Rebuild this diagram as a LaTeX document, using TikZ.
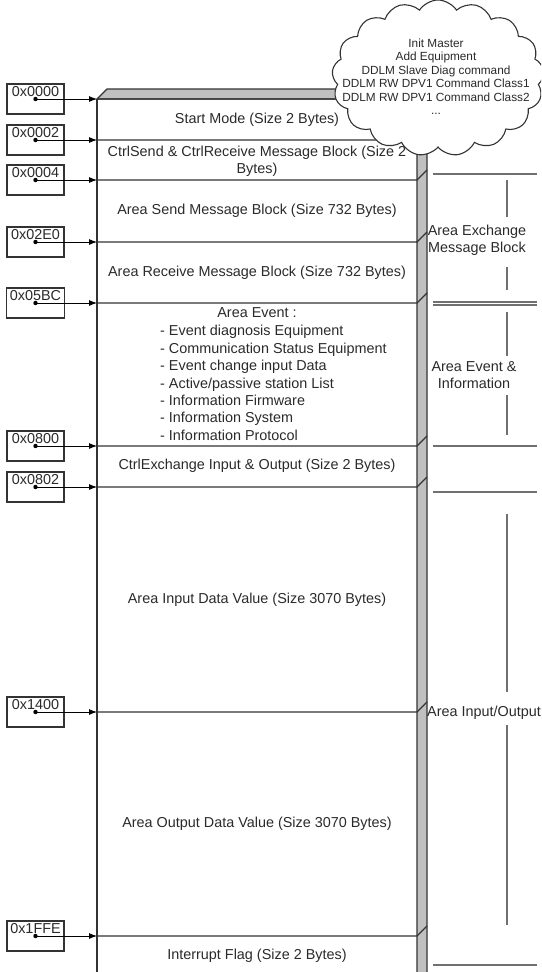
\documentclass[tikz,border=0pt]{standalone}
\usepackage{fontspec}
\setmainfont{Liberation Sans}
\usetikzlibrary{arrows.meta,shapes.symbols}

\definecolor{linegray}{HTML}{333333}
\definecolor{sidegray}{HTML}{C0C0C0}
\definecolor{bracketgray}{HTML}{707070}
\definecolor{textgray}{HTML}{2A2A2A}

\tikzset{
  addrbox/.style={draw=linegray, line width=1.1pt, minimum width=57, minimum height=30,
    inner ysep=2.5, text height=10, text depth=15, text=textgray,
    font=\fontsize{14.4}{17.4}\selectfont},
  addrarrow/.style={-{Latex[length=8,width=6]}, line width=0.9pt, black},
  divider/.style={draw=linegray, line width=1.3pt},
  areatext/.style={font=\fontsize{14.4}{17.4}\selectfont, text=textgray, align=center, inner sep=0},
  bracketline/.style={draw=bracketgray, line width=1.6pt},
  cmdtext/.style={font=\fontsize{11.8}{13.5}\selectfont, text=textgray, align=center, inner sep=0},
}

\begin{document}
\begin{tikzpicture}[x=1pt, y=-1pt]
  \useasboundingbox (0,0) rectangle (541,972);
  \clip (0,0) rectangle (541,972);

  % Memory block: top and side faces
  \filldraw[fill=sidegray, divider] (417,99) -- (427,89) -- (427,980) -- (417,980) -- cycle;
  \filldraw[fill=sidegray, divider] (97,99) -- (107,89) -- (427,89) -- (417,99) -- cycle;
  \draw[divider] (97,99) -- (97,980);

  % Addresses
  \foreach \n/\addr/\y in {0/0x0000/99, 1/0x0002/140, 2/0x0004/180, 3/0x02E0/242,
      4/0x05BC/303, 5/0x0800/446, 6/0x0802/487, 7/0x1400/712, 8/0x1FFE/936} {
    \coordinate (l\n) at (97,\y);
    \coordinate (r\n) at (417,\y);
    \node[addrbox] (a\n) at (35.5,\y) {\addr};
    \fill (a\n.center) circle (2.2);
    \draw[addrarrow] (a\n.center) -- (l\n);
    \draw[divider] (l\n) -- (r\n) -- ++(10,-10);
  }

  % Areas
  \node[areatext] (startmode) at (257,119.5) {Start Mode (Size 2 Bytes)};
  \node[areatext] (ctrlsend) at (257,161) {CtrlSend \& CtrlReceive Message Block (Size 2\\Bytes)};
  \node[areatext] (sendblk) at (257,211) {Area Send Message Block (Size 732 Bytes)};
  \node[areatext] (recvblk) at (257,272.5) {Area Receive Message Block (Size 732 Bytes)};
  \node[areatext] (evtitle) at (257,313) {Area Event :};
  \node[areatext, align=left, anchor=west] (evlist) at (160,383) {- Event diagnosis Equipment\\
    - Communication Status Equipment\\- Event change input Data\\- Active/passive station List\\
    - Information Firmware\\- Information System\\- Information Protocol};
  \node[areatext] (ctrlxchg) at (257,466) {CtrlExchange Input \& Output (Size 2 Bytes)};
  \node[areatext] (inputval) at (257,599.5) {Area Input Data Value (Size 3070 Bytes)};
  \node[areatext] (outputval) at (257,824) {Area Output Data Value (Size 3070 Bytes)};
  \node[areatext] (irqflag) at (257,956) {Interrupt Flag (Size 2 Bytes)};

  % Brackets on the right
  \foreach \y in {174,302,305,446,492,965}
    \draw[bracketline] (433,\y) -- (537,\y);
  \foreach \a/\b in {180/217, 267/290, 312/356, 395/435, 514/692, 725/925}
    \draw[bracketline] (507,\a) -- (507,\b);
  \node[areatext] (xchg) at (477,240.5) {Area Exchange\\Message Block};
  \node[areatext] (evinfo) at (474,375) {Area Event \&\\Information};
  \node[areatext, anchor=west] (inout) at (427,713) {Area Input/Output};

  % Commands cloud
  \node[cloud, draw=linegray, line width=1.1pt, fill=white, cloud puffs=17, cloud puff arc=115,
    minimum width=212, minimum height=156, inner sep=0] (cmds) at (438,78) {};
  \node[cmdtext] (cmdlist) at (436,76.5) {Init Master\\Add Equipment\\DDLM Slave Diag command\\
    DDLM RW DPV1 Command Class1\\DDLM RW DPV1 Command Class2\\...};
\end{tikzpicture}
\end{document}
